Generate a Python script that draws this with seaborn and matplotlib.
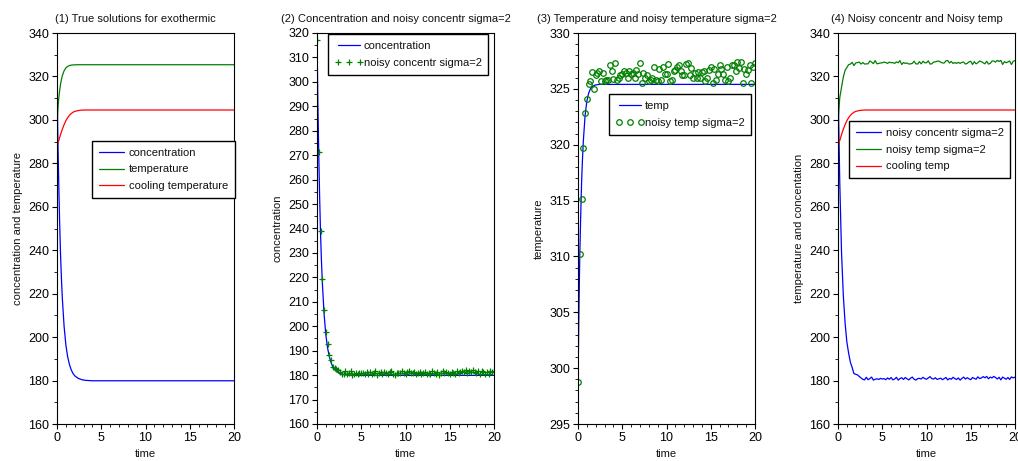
import numpy as np
import matplotlib
matplotlib.use("Agg")
import matplotlib.pyplot as plt
import seaborn as sns
from matplotlib.ticker import MultipleLocator

# ---------------- data ----------------
# time grid for the smooth "true" solutions
t_true = [0, 0.1, 0.2, 0.3, 0.4, 0.5, 0.6, 0.8, 1.0, 1.2, 1.4, 1.6, 1.8, 2.0,
          2.4, 2.8, 3.2, 3.6, 4.0, 5.0, 6.0, 8.0, 10.0, 15.0, 20.0]
conc_true = [318.0, 291.0, 270.0, 252.5, 238.0, 227.0, 218.0, 205.0, 196.5, 191.0,
             187.5, 185.0, 183.3, 182.2, 181.0, 180.4, 180.1, 180.0, 179.9, 179.9,
             179.9, 179.9, 179.9, 179.9, 179.9]
temp_true = [298.4, 305.0, 310.0, 313.5, 316.5, 318.6, 320.3, 322.6, 323.9, 324.6,
             325.0, 325.2, 325.3, 325.35, 325.4, 325.4, 325.4, 325.4, 325.4, 325.4,
             325.4, 325.4, 325.4, 325.4, 325.4]
cool_true = [288.3, 289.3, 290.5, 291.9, 293.2, 294.5, 295.7, 297.8, 299.6, 301.0,
             302.1, 302.9, 303.5, 303.9, 304.3, 304.5, 304.55, 304.55, 304.55, 304.55,
             304.55, 304.55, 304.55, 304.55, 304.55]

# sampled (noisy) measurements every 0.2 time units, 0 .. 20
t_noisy = np.round(np.arange(101) * 0.2, 1)
conc_noisy = [317.0, 271.2, 238.8, 219.2, 206.5, 197.8, 192.6, 188.4, 186.0, 183.2,
              182.9, 182.6,
              181.9, 181.2, 180.6, 180.3, 181.5, 180.4, 180.9, 181.6, 180.2, 180.6,
              180.8, 180.5, 181.0, 180.7, 180.9, 180.4, 181.2, 180.6, 181.4, 180.3,
              180.7, 181.5, 180.2, 180.9, 181.3, 180.5, 181.4, 180.8, 180.3, 181.1,
              181.6, 180.6, 180.2, 180.9, 181.0, 180.7, 181.5, 180.9, 180.6, 181.2,
              181.8, 180.9, 180.7, 181.3, 180.5, 180.8, 181.1, 180.4, 180.9, 181.4,
              180.3, 181.0, 180.6, 181.5, 180.9, 180.5, 181.2, 180.2, 181.0, 181.6,
              180.7, 181.3, 180.8, 180.4, 181.4, 181.0, 180.6, 181.7, 180.9, 181.2,
              181.8, 181.3, 181.9, 180.8, 181.6, 181.2, 181.9, 181.4, 180.7, 181.5,
              180.3, 181.6, 181.1, 180.6, 181.4, 180.5, 181.7, 181.2, 181.6]
temp_noisy = [298.8, 310.2, 315.1, 319.7, 322.8, 324.1, 325.4, 325.7,
              326.5, 325.0, 326.2, 326.4, 326.6, 325.7, 326.4, 325.7, 325.8, 325.8,
              327.1, 326.6, 325.9, 327.3, 325.8, 326.0, 326.2, 326.3, 326.6, 326.4,
              326.0, 326.6, 326.3, 326.4, 326.0, 326.7, 326.3, 327.3, 325.5, 326.4,
              326.0, 326.2, 325.7, 325.8, 326.0, 327.0, 325.8, 325.7, 326.8, 325.8,
              327.0, 326.3, 326.3, 327.2, 325.7, 325.8, 326.6, 326.7, 327.0, 327.1,
              326.6, 326.2, 326.2, 327.2, 327.3, 326.2, 326.9, 326.0, 326.4, 326.0,
              326.5, 326.0, 326.5, 326.6, 325.7, 326.0, 326.7, 327.0, 325.5, 326.8,
              325.8, 326.3, 327.1, 326.8, 326.3, 325.8, 327.0, 325.7, 326.0, 327.1,
              327.1, 326.6, 327.4, 326.9, 327.4, 325.5, 326.8, 326.3, 326.7, 327.1,
              325.5, 327.0, 327.3]

titles = ["(1) True solutions for exothermic",
          "(2) Concentration and noisy concentr sigma=2",
          "(3) Temperature and noisy temperature sigma=2",
          "(4) Noisy concentr and Noisy temp"]
ylabels = ["concentration and temperature", "concentration",
           "temperature", "temperature and concentation"]

BLUE = "#0000ff"
GREEN = "#008000"
RED = "#ff0000"

# ---------------- style ----------------
sns.set_theme(style="ticks")
plt.rcParams["font.family"] = ["Liberation Sans", "DejaVu Sans"]
plt.rcParams.update({
    "axes.linewidth": 0.8,
    "xtick.direction": "out", "ytick.direction": "out",
    "xtick.major.size": 3.5, "ytick.major.size": 3.5,
    "xtick.minor.size": 2.0, "ytick.minor.size": 2.0,
    "xtick.major.width": 0.8, "ytick.major.width": 0.8,
    "xtick.minor.width": 0.6, "ytick.minor.width": 0.6,
    "xtick.labelsize": 9, "ytick.labelsize": 9,
    "xtick.color": "black", "ytick.color": "black",
    "axes.edgecolor": "black", "text.color": "#111111",
    "axes.labelcolor": "#111111",
})

W, H = 1018, 461
fig = plt.figure(figsize=(W / 100, H / 100), dpi=100)
lefts = [57, 317, 578, 838]
axw, top, bot = 177, 33, 424
axes = [fig.add_axes([l / W, 1 - bot / H, axw / W, (bot - top) / H]) for l in lefts]

ylims = [(160, 340), (160, 320), (295, 330), (160, 340)]
ymaj = [20, 10, 5, 20]
ymin = [10, 5, 1, 10]

for i, ax in enumerate(axes):
    ax.set_xlim(0, 20)
    ax.set_ylim(*ylims[i])
    ax.xaxis.set_major_locator(MultipleLocator(5))
    ax.xaxis.set_minor_locator(MultipleLocator(1))
    ax.yaxis.set_major_locator(MultipleLocator(ymaj[i]))
    ax.yaxis.set_minor_locator(MultipleLocator(ymin[i]))
    for s in ax.spines.values():
        s.set_visible(True)
        s.set_color("black")
    ax.set_title(titles[i], fontsize=8, x=0.5 - 10 / axw, pad=8)
    ax.set_xlabel("time", fontsize=8, labelpad=4)
    ax.set_ylabel(ylabels[i], fontsize=8, labelpad=4)
    ax.tick_params(axis="both", pad=2)

lw = 0.9
leg_kw = dict(frameon=True, fancybox=False, framealpha=1, edgecolor="black",
              fontsize=8, borderaxespad=0, borderpad=0.6, labelspacing=0.62,
              handlelength=2.3, handletextpad=0.4)

# (1) true solutions
ax = axes[0]
sns.lineplot(x=t_true, y=conc_true, ax=ax, color=BLUE, lw=lw, label="concentration", estimator=None)
sns.lineplot(x=t_true, y=temp_true, ax=ax, color=GREEN, lw=lw, label="temperature", estimator=None)
sns.lineplot(x=t_true, y=cool_true, ax=ax, color=RED, lw=lw, label="cooling temperature", estimator=None)
ax.legend(loc="upper left", bbox_to_anchor=(0.198, 0.724), **leg_kw)

# (2) concentration and noisy concentration
ax = axes[1]
sns.lineplot(x=t_true, y=conc_true, ax=ax, color=BLUE, lw=lw, label="concentration", estimator=None)
sns.lineplot(x=t_noisy, y=conc_noisy, ax=ax, color=GREEN, linestyle="", marker="+",
             markersize=5, markeredgewidth=0.9, markeredgecolor=GREEN,
             label="noisy concentr sigma=2", estimator=None)
kw2 = dict(leg_kw); kw2.update(handletextpad=0.0, numpoints=3, handlelength=2.6,
                               borderpad=0.6, labelspacing=0.65)
ax.legend(loc="upper left", bbox_to_anchor=(0.062, 0.997), **kw2)

# (3) temperature and noisy temperature
ax = axes[2]
sns.lineplot(x=t_true, y=temp_true, ax=ax, color=BLUE, lw=lw, label="temp", estimator=None)
sns.lineplot(x=t_noisy, y=temp_noisy, ax=ax, color=GREEN, linestyle="", marker="o",
             markersize=4, markerfacecolor="none", markeredgecolor=GREEN,
             markeredgewidth=0.9, label="noisy temp sigma=2", estimator=None)
kw3 = dict(leg_kw); kw3.update(handletextpad=0.0, numpoints=3, handlelength=2.6,
                               borderpad=0.6, labelspacing=0.65)
ax.legend(loc="upper left", bbox_to_anchor=(0.176, 0.844), **kw3)

# (4) noisy concentration and noisy temperature
ax = axes[3]
sns.lineplot(x=t_noisy, y=conc_noisy, ax=ax, color=BLUE, lw=lw, label="noisy concentr sigma=2", estimator=None)
sns.lineplot(x=t_noisy, y=temp_noisy, ax=ax, color=GREEN, lw=lw, label="noisy temp sigma=2", estimator=None)
sns.lineplot(x=t_true, y=cool_true, ax=ax, color=RED, lw=lw, label="cooling temp", estimator=None)
ax.legend(loc="upper left", bbox_to_anchor=(0.062, 0.775), **leg_kw)

fig.savefig("out.png", dpi=100)
